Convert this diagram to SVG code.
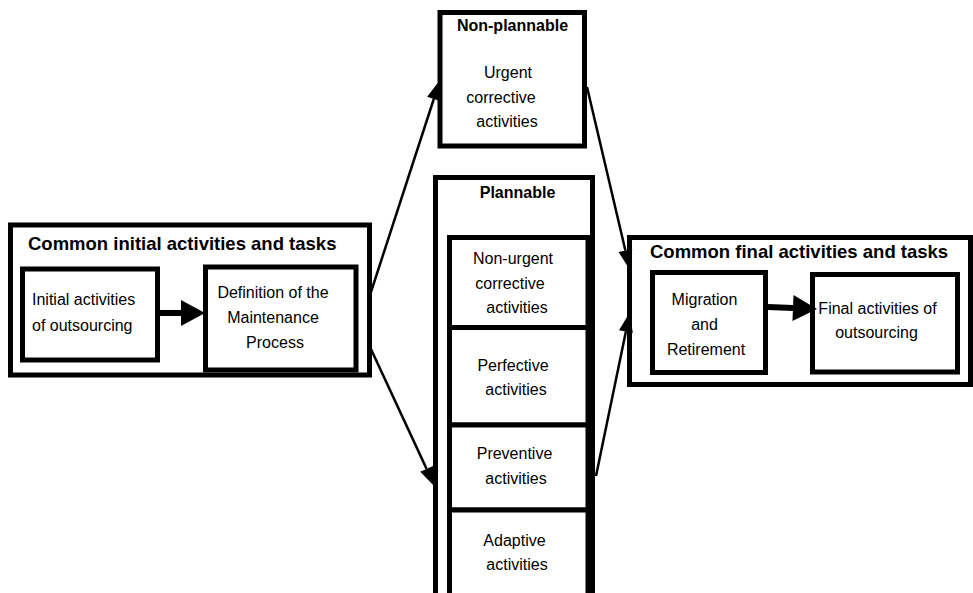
<svg xmlns="http://www.w3.org/2000/svg" width="973" height="593" viewBox="0 0 973 593">
<style>
.box{fill:#fff;stroke:#000;stroke-width:5}
.t{font-family:"Liberation Sans",Arial,sans-serif;font-size:16px;fill:#000}
.m{text-anchor:middle}
.b{font-weight:bold}
.h{font-family:"Liberation Sans",Arial,sans-serif;font-size:18.5px;font-weight:bold;fill:#000}
.thin{stroke:#000;stroke-width:2.5;fill:none}
.thick{stroke:#000;stroke-width:6;fill:none}
</style>
<defs>
<marker id="ah" markerUnits="userSpaceOnUse" markerWidth="20" markerHeight="14" refX="0" refY="7" orient="auto" overflow="visible">
<path d="M0,0 L20,7 L0,14 z" fill="#000"/>
</marker>
<marker id="ahb" markerUnits="userSpaceOnUse" markerWidth="24" markerHeight="26" refX="0" refY="13" orient="auto" overflow="visible">
<path d="M0,0 L24,13 L0,26 z" fill="#000"/>
</marker>
</defs>
<rect width="973" height="593" fill="#fff"/>

<g id="common-initial">
<rect class="box" x="10.5" y="225" width="359" height="150"/>
<text class="h" x="28" y="250">Common initial activities and tasks</text>
</g>
<g id="initial-activities">
<rect class="box" x="22.5" y="269" width="135" height="91"/>
<text class="t" x="32" y="305">Initial activities</text>
<text class="t" x="32" y="331">of outsourcing</text>
</g>
<g id="definition">
<rect class="box" x="205.5" y="267" width="150.5" height="103"/>
<text class="t m" x="273" y="298">Definition of the</text>
<text class="t m" x="273" y="323">Maintenance</text>
<text class="t m" x="275" y="348">Process</text>
</g>

<g id="non-plannable">
<rect class="box" x="440" y="12.5" width="144.5" height="133.5"/>
<text class="t b m" x="512.5" y="31">Non-plannable</text>
<text class="t m" x="508" y="78">Urgent</text>
<text class="t m" x="501" y="103">corrective</text>
<text class="t m" x="507" y="127">activities</text>
</g>

<g id="plannable">
<rect class="box" x="435.5" y="177.5" width="157" height="450"/>
<text class="t b m" x="517.5" y="198">Plannable</text>
</g>
<g id="non-urgent">
<rect class="box" x="449.5" y="237.5" width="138.5" height="90"/>
<text class="t m" x="513" y="264">Non-urgent</text>
<text class="t m" x="510" y="289">corrective</text>
<text class="t m" x="517" y="313">activities</text>
</g>
<g id="perfective">
<rect class="box" x="449.5" y="327.5" width="138.5" height="97.5"/>
<text class="t m" x="513" y="371">Perfective</text>
<text class="t m" x="516" y="395">activities</text>
</g>
<g id="preventive">
<rect class="box" x="449.5" y="425" width="138.5" height="85"/>
<text class="t m" x="514.5" y="459">Preventive</text>
<text class="t m" x="516" y="484">activities</text>
</g>
<g id="adaptive">
<rect class="box" x="449.5" y="510" width="138.5" height="120"/>
<text class="t m" x="514.5" y="546">Adaptive</text>
<text class="t m" x="517" y="570">activities</text>
</g>

<g id="common-final">
<rect class="box" x="629.5" y="237.5" width="341" height="147"/>
<text class="h" x="650" y="258">Common final activities and tasks</text>
</g>
<g id="migration">
<rect class="box" x="652.5" y="272.5" width="113" height="100"/>
<text class="t m" x="704.5" y="305">Migration</text>
<text class="t m" x="704.5" y="330">and</text>
<text class="t m" x="706" y="355">Retirement</text>
</g>
<g id="final-activities">
<rect class="box" x="812.5" y="274.5" width="145" height="97.5"/>
<text class="t m" x="877.5" y="314">Final activities of</text>
<text class="t m" x="876.5" y="338">outsourcing</text>
</g>

<g id="connectors">
<line class="thick" x1="160" y1="313" x2="181" y2="313" marker-end="url(#ahb)"/>
<line class="thick" x1="768" y1="307" x2="793" y2="308" marker-end="url(#ahb)"/>
<line class="thin" x1="370" y1="295" x2="433.8" y2="99" marker-end="url(#ah)"/>
<line class="thin" x1="370" y1="347" x2="426.6" y2="468.9" marker-end="url(#ah)"/>
<line class="thin" x1="587" y1="87" x2="625.4" y2="250.5" marker-end="url(#ah)"/>
<line class="thin" x1="596" y1="476" x2="625.9" y2="331.6" marker-end="url(#ah)"/>
</g>
</svg>
